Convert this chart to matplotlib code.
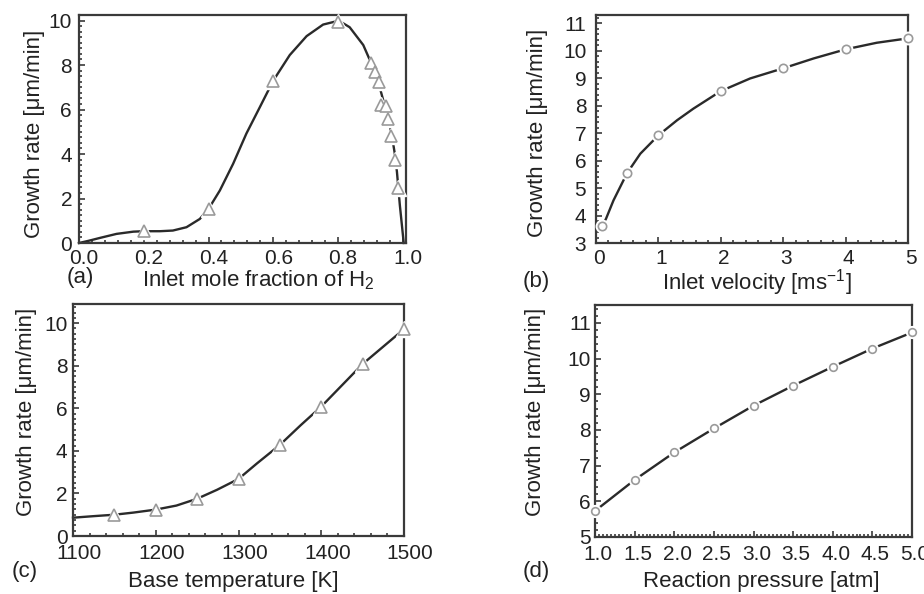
import matplotlib
matplotlib.use("Agg")
import matplotlib.pyplot as plt
from matplotlib.ticker import MultipleLocator, FormatStrFormatter
from matplotlib.transforms import ScaledTranslation

plt.rcParams['font.family'] = ['Liberation Sans', 'DejaVu Sans']
plt.rcParams['mathtext.fontset'] = 'custom'
plt.rcParams['mathtext.rm'] = 'Liberation Sans'
plt.rcParams['mathtext.it'] = 'Liberation Sans:italic'

# (a) growth rate vs inlet mole fraction of H2
a_pts_x = [0.2, 0.4, 0.6, 0.8, 0.903, 0.914, 0.926, 0.934, 0.948, 0.955, 0.965, 0.975, 0.986]
a_pts_y = [0.53, 1.53, 7.3, 9.95, 8.07, 7.7, 7.25, 6.19, 6.14, 5.59, 4.79, 3.74, 2.48]
a_line_x = [0.0, 0.03, 0.065, 0.116, 0.168, 0.2, 0.25, 0.29, 0.332, 0.373, 0.4, 0.435, 0.476,
            0.517, 0.559, 0.6, 0.651, 0.703, 0.754, 0.79, 0.81, 0.836, 0.878, 0.903, 0.915,
            0.926, 0.94, 0.955, 0.965, 0.975, 0.982, 0.991, 1.003]
a_line_y = [0.0, 0.1, 0.23, 0.41, 0.51, 0.53, 0.53, 0.56, 0.71, 1.08, 1.53, 2.36, 3.56,
            4.92, 6.12, 7.3, 8.45, 9.3, 9.82, 9.95, 9.93, 9.7, 8.9, 8.07, 7.6,
            7.15, 6.4, 5.6, 4.95, 4.05, 3.2, 1.7, 0.0]

# (b) growth rate vs inlet velocity
b_pts_x = [0.1, 0.5, 1.0, 2.0, 3.0, 4.0, 5.0]
b_pts_y = [3.63, 5.55, 6.92, 8.53, 9.36, 10.05, 10.45]
b_line_x = [0.1, 0.16, 0.28, 0.44, 0.5, 0.71, 1.0, 1.3, 1.56, 2.0, 2.47, 3.0, 3.49, 4.0, 4.5, 5.0]
b_line_y = [3.63, 3.88, 4.55, 5.28, 5.55, 6.25, 6.92, 7.47, 7.89, 8.53, 8.99, 9.36, 9.72, 10.05, 10.29, 10.45]

# (c) growth rate vs base temperature
c_pts_x = [1150, 1200, 1250, 1300, 1350, 1400, 1450, 1500]
c_pts_y = [1.0, 1.24, 1.75, 2.68, 4.28, 6.08, 8.08, 9.72]
c_line_x = [1100, 1124, 1150, 1173, 1200, 1225, 1250, 1274, 1300, 1322, 1350, 1375, 1400, 1423, 1450, 1475, 1500]
c_line_y = [0.86, 0.93, 1.0, 1.1, 1.24, 1.43, 1.75, 2.17, 2.68, 3.4, 4.28, 5.2, 6.08, 7.0, 8.08, 8.9, 9.72]

# (d) growth rate vs reaction pressure
d_pts_x = [1.0, 1.5, 2.0, 2.5, 3.0, 3.5, 4.0, 4.5, 5.0]
d_pts_y = [5.73, 6.60, 7.37, 8.04, 8.68, 9.24, 9.77, 10.28, 10.73]

W, H = 924, 594
fig = plt.figure(figsize=(W / 100, H / 100), dpi=100)

def box(l, t, r, b):
    return [l / W, 1 - b / H, (r - l) / W, (b - t) / H]

def txt(x, y, s, size=16, rot=0):
    fig.text(x / W, 1 - y / H, s, fontsize=size, ha='center', va='center',
             rotation=rot, color='#222222')

dark = '#2a2a2a'
mk_edge = '#9a9a9a'

def style(ax, xmaj, xmin, ymaj, ymin, ypad, xpad, shift):
    for s in ax.spines.values():
        s.set_color('#3a3a3a')
        s.set_linewidth(1.6)
    ax.xaxis.set_major_locator(MultipleLocator(xmaj))
    ax.xaxis.set_minor_locator(MultipleLocator(xmin))
    ax.yaxis.set_major_locator(MultipleLocator(ymaj))
    ax.yaxis.set_minor_locator(MultipleLocator(ymin))
    ax.tick_params(which='both', direction='in', colors='#3a3a3a', labelcolor='#222222',
                   labelsize=15, width=1.2)
    ax.tick_params(which='major', length=4)
    ax.tick_params(which='minor', length=2.2)
    ax.tick_params(axis='y', pad=ypad)
    ax.tick_params(axis='x', pad=xpad)
    # tick labels in the original sit a little to the right of their ticks
    off = ScaledTranslation(shift / 100, 0, fig.dpi_scale_trans)
    for lab in ax.get_xticklabels():
        lab.set_transform(lab.get_transform() + off)

def curve(ax, lx, ly, px, py, marker, ms):
    ax.plot(lx, ly, color=dark, lw=1.7, zorder=2, clip_on=False)
    ax.plot(px, py, linestyle='none', marker=marker, ms=ms + 3, mfc='white', mec='white',
            mew=1.0, zorder=3, clip_on=False)
    ax.plot(px, py, linestyle='none', marker=marker, ms=ms, mfc='white', mec=mk_edge,
            mew=1.2, zorder=4, clip_on=False)

# (a)
ax = fig.add_axes(box(79, 15, 406, 243))
curve(ax, a_line_x, a_line_y, a_pts_x, a_pts_y, '^', 8)
ax.set_xlim(0, 1.01)
ax.set_ylim(0, 10.25)
ax.xaxis.set_major_formatter(FormatStrFormatter('%.1f'))
style(ax, 0.2, 0.04, 2, 0.25, 5, 4.5, 5)
txt(258, 280, 'Inlet mole fraction of H$_2$')
txt(80, 278, '(a)')
txt(35, 134, 'Growth rate [\u03bcm/min]', rot=90)

# (b)
ax = fig.add_axes(box(596, 15, 908, 243))
curve(ax, b_line_x, b_line_y, b_pts_x, b_pts_y, 'o', 6)
ax.set_xlim(0, 5)
ax.set_ylim(3, 11.3)
style(ax, 1, 0.2, 1, 0.2, 7, 4.5, 3)
txt(757, 283, 'Inlet velocity [ms$^{-1}$]')
txt(536, 282, '(b)')
txt(538, 133, 'Growth rate [\u03bcm/min]', rot=90)

# (c)
ax = fig.add_axes(box(73, 304, 404, 536))
curve(ax, c_line_x, c_line_y, c_pts_x, c_pts_y, '^', 8)
ax.set_xlim(1100, 1500)
ax.set_ylim(0, 10.9)
style(ax, 100, 20, 2, 0.25, 4, 6, 6)
txt(233, 581, 'Base temperature [K]')
txt(25, 572, '(c)')
txt(27, 412, 'Growth rate [\u03bcm/min]', rot=90)

# (d)
ax = fig.add_axes(box(595, 305, 912, 537))
curve(ax, d_pts_x, d_pts_y, d_pts_x, d_pts_y, 'o', 5.5)
ax.set_xlim(1, 5)
ax.set_ylim(5, 11.5)
ax.xaxis.set_major_formatter(FormatStrFormatter('%.1f'))
style(ax, 0.5, 0.05, 1, 0.2, 3, 6, 3)
txt(761, 581, 'Reaction pressure [atm]')
txt(536, 572, '(d)')
txt(535, 412, 'Growth rate [\u03bcm/min]', rot=90)

fig.savefig('out.png', dpi=100, facecolor='white')
